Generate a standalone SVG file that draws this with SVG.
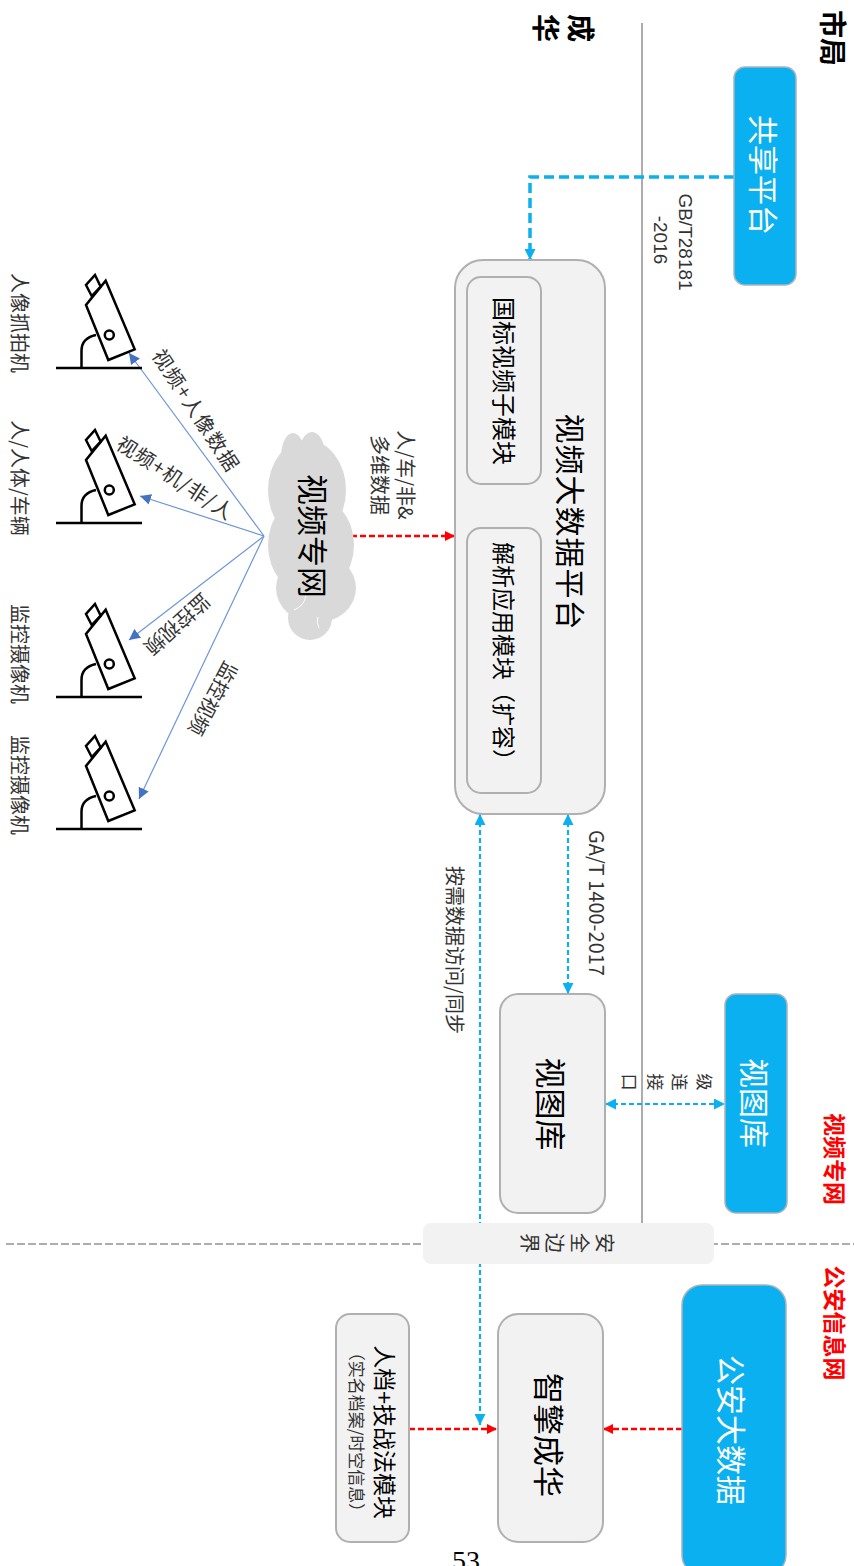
<svg xmlns="http://www.w3.org/2000/svg" width="854" height="1566" viewBox="0 0 854 1566">
<style>
text{font-family:"Noto Sans CJK SC","Liberation Sans",sans-serif;text-anchor:middle;dominant-baseline:central;fill:#333}
.box{fill:#f2f2f2;stroke:#b0b0b0;stroke-width:2}
.blue{fill:#0bb0f0;stroke:#aab4ba;stroke-width:1.5}
.w{fill:#fff}
.k{fill:#000}
.r{fill:#f00;font-weight:700;font-size:23px}
.b{fill:#000;font-weight:700;font-size:28px}
.cb{fill:none;stroke:#0bb0f0;stroke-width:3.5;stroke-dasharray:10 5}
.cb2{fill:none;stroke:#0bb0f0;stroke-width:2.2;stroke-dasharray:5 3}
.cr{fill:none;stroke:#f00;stroke-width:2.4;stroke-dasharray:6 3}
.cl{fill:none;stroke:#6d95d6;stroke-width:1.2}
.cam{fill:none;stroke:#000;stroke-width:2.5}
</style>
<defs>
<marker id="ab" viewBox="0 0 10 10" refX="10" refY="5" markerWidth="12" markerHeight="11" markerUnits="userSpaceOnUse" orient="auto-start-reverse"><path d="M0 0L10 5L0 10Z" fill="#0bb0f0"/></marker>
<marker id="ar" viewBox="0 0 10 10" refX="10" refY="5" markerWidth="10" markerHeight="10" markerUnits="userSpaceOnUse" orient="auto"><path d="M0 0L10 5L0 10Z" fill="#f00"/></marker>
<marker id="al" viewBox="0 0 10 10" refX="10" refY="5" markerWidth="11" markerHeight="11" markerUnits="userSpaceOnUse" orient="auto"><path d="M0 0L10 5L0 10Z" fill="#4472c4"/></marker>
<g id="camera" class="cam">
<path d="M56 0H142"/>
<path d="M81.5 0V-17Q81.5-30 96-33"/>
<path d="M105.7-87.3L134.7-18.7L108.3-8L86-63Z" fill="#fff"/>
<path d="M95-93L100.7-81.3L91.7-72L86-83Z"/>
<circle cx="109.3" cy="-33" r="4.5"/>
</g>
</defs>
<rect width="854" height="1566" fill="#fff"/>
<path d="M642 23V1223" fill="none" stroke="#adadad" stroke-width="2"/>
<path d="M6 1244H854" fill="none" stroke="#adadad" stroke-width="2" stroke-dasharray="8 3"/>
<g id="connectors">
<path class="cb" d="M734 177H530V260" marker-end="url(#ab)"/>
<path class="cb2" d="M568 814V994" marker-start="url(#ab)" marker-end="url(#ab)"/>
<path class="cb2" d="M480 814V1425" marker-start="url(#ab)" marker-end="url(#ab)"/>
<path class="cb2" d="M605 1104H725" marker-start="url(#ab)" marker-end="url(#ab)"/>
<path class="cr" d="M351 536H455" marker-end="url(#ar)"/>
<path class="cr" d="M409 1429H497" marker-end="url(#ar)"/>
<path class="cr" d="M682 1429H603" marker-end="url(#ar)"/>
<path class="cl" d="M264 536L129 353" marker-end="url(#al)"/>
<path class="cl" d="M264 536L140 496" marker-end="url(#al)"/>
<path class="cl" d="M264 536L129 640" marker-end="url(#al)"/>
<path class="cl" d="M264 536L139 799" marker-end="url(#al)"/>
</g>
<g id="boundary"><rect x="423" y="1223" width="291" height="41" rx="8" fill="#f2f2f2"/>
<text transform="translate(605,1243) rotate(90)" font-size="20">安</text>
<text transform="translate(580,1243) rotate(90)" font-size="20">全</text>
<text transform="translate(555,1243) rotate(90)" font-size="20">边</text>
<text transform="translate(530,1243) rotate(90)" font-size="20">界</text></g>
<g id="share"><rect class="blue" x="734" y="67" width="62" height="218" rx="11"/><text class="w" transform="translate(765,175) rotate(90)" font-size="30">共享平台</text></g>
<g id="platform"><rect class="box" x="455" y="260" width="150" height="554" rx="28"/><text class="k" transform="translate(572,522) rotate(90)" font-size="30" letter-spacing="1">视频大数据平台</text></g>
<g id="gb"><rect class="box" x="467" y="277" width="74" height="207" rx="14"/><text class="k" transform="translate(505,381) rotate(90)" font-size="24">国标视频子模块</text></g>
<g id="parse"><rect class="box" x="467" y="528" width="74" height="265" rx="14"/><text class="k" transform="translate(505,657) rotate(90)" font-size="23">解析应用模块（扩容）</text></g>
<g id="vlib"><rect class="box" x="500" y="994" width="105" height="219" rx="18"/><text class="k" transform="translate(552,1104) rotate(90)" font-size="31">视图库</text></g>
<g id="vlib2"><rect class="blue" x="725" y="994" width="62" height="219" rx="11"/><text class="w" transform="translate(756,1103) rotate(90)" font-size="30">视图库</text></g>
<g id="psbig"><rect class="blue" x="682" y="1285" width="104" height="290" rx="20"/><text class="w" transform="translate(733,1430) rotate(90)" font-size="30">公安大数据</text></g>
<g id="zq"><rect class="box" x="498" y="1314" width="105" height="228" rx="20"/><text class="k" transform="translate(550,1435) rotate(90)" font-size="31">智擎成华</text></g>
<g id="rd"><rect class="box" x="336" y="1314" width="73" height="228" rx="14"/><text class="k" transform="translate(386,1432) rotate(90)" font-size="23">人档+技战法模块</text><text transform="translate(357,1432) rotate(90)" font-size="17">（实名档案/时空信息）</text></g>
<g id="cloud" fill="#d9d9d9"><ellipse cx="293" cy="457" rx="12" ry="24"/><ellipse cx="312" cy="455" rx="13" ry="23"/><ellipse cx="307" cy="490" rx="39" ry="50"/><ellipse cx="311" cy="545" rx="43" ry="50"/><ellipse cx="316" cy="588" rx="40" ry="35"/><ellipse cx="310" cy="618" rx="22" ry="22"/><path d="M294 610Q304 606 306 596M319 628Q316 622 318 617" fill="none" stroke="#fff" stroke-width="1"/><text class="k" transform="translate(314,536) rotate(90)" font-size="31">视频专网</text></g>
<g id="cam1"><use href="#camera" y="368"/><text transform="translate(20,323) rotate(90)" font-size="20">人像抓拍机</text></g>
<g id="cam2"><use href="#camera" y="523"/><text transform="translate(20,478) rotate(90)" font-size="20">人/人体/车辆</text></g>
<g id="cam3"><use href="#camera" y="697"/><text transform="translate(20,654) rotate(90)" font-size="20">监控摄像机</text></g>
<g id="cam4"><use href="#camera" y="829"/><text transform="translate(20,785) rotate(90)" font-size="20">监控摄像机</text></g>
<g id="labels">
<text class="b" transform="translate(834,38) rotate(90)">市局</text>
<text class="b" transform="translate(582,28) rotate(90)">成</text>
<text class="b" transform="translate(547,28) rotate(90)">华</text>
<text class="r" transform="translate(836,1159) rotate(90)">视频专网</text>
<text class="r" transform="translate(836,1323) rotate(90)">公安信息网</text>
<text transform="translate(685,242) rotate(90)" font-size="19" style="font-family:'Liberation Sans'">GB/T28181</text>
<text transform="translate(660,240) rotate(90)" font-size="19" style="font-family:'Liberation Sans'">-2016</text>
<text transform="translate(406,475) rotate(90)" font-size="20">人/车/非&amp;</text>
<text transform="translate(380,475) rotate(90)" font-size="20">多维数据</text>
<text transform="translate(597,903) rotate(90)" font-size="20">GA/T 1400-2017</text>
<text transform="translate(455,950) rotate(90)" font-size="20">按需数据访问/同步</text>
<text transform="translate(705,1082) rotate(90)" font-size="17">级</text>
<text transform="translate(680,1082) rotate(90)" font-size="17">连</text>
<text transform="translate(656,1082) rotate(90)" font-size="17">接</text>
<text transform="translate(630,1082) rotate(90)" font-size="17">口</text>
<text transform="translate(197,410) rotate(57)" font-size="20" letter-spacing="1.5">视频+人像数据</text>
<text transform="translate(176,477) rotate(33)" font-size="20" letter-spacing="1">视频+机/非/人</text>
<text transform="translate(178,625) rotate(138)" font-size="20">监控视频</text>
<text transform="translate(214,699) rotate(118)" font-size="20">监控视频</text>
<text x="466" y="1570" font-size="28" style="font-family:'Liberation Serif';fill:#000;dominant-baseline:auto">53</text>
</g>
</svg>
